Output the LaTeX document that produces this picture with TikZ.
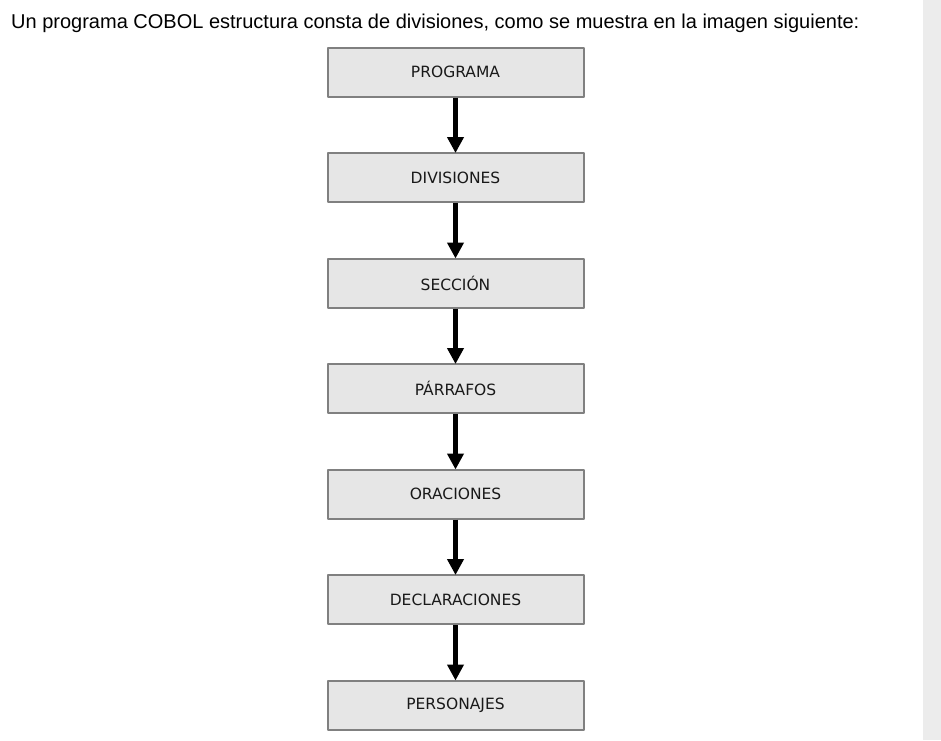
\documentclass[tikz,border=0pt]{standalone}
\usepackage{fontspec}
\setmainfont{Liberation Sans}
\newfontfamily\boxfont{DejaVu Sans}
\usetikzlibrary{arrows.meta}
\definecolor{boxfill}{HTML}{E6E6E6}
\definecolor{boxline}{HTML}{808080}
\definecolor{sidebar}{HTML}{ECECEC}
\begin{document}
\begin{tikzpicture}[x=1pt, y=-1pt, line join=round, >={Triangle[length=16pt,width=16pt]},
	nivel/.style={draw=boxline, line width=2pt, fill=boxfill, minimum width=256pt, minimum height=49pt, inner sep=0pt, font=\boxfont\fontsize{15.5}{18}\selectfont, text=black!90},
	flecha/.style={->, line width=4.5pt, shorten >=-1pt}]
				\useasboundingbox (0,0) rectangle (941,740);
				\fill[sidebar] (923,0) rectangle (941,740);
				\node[anchor=base west, inner sep=0pt, font=\fontsize{20}{23}\selectfont] (titulo) at (11,28) {Un programa COBOL estructura consta de divisiones, como se muestra en la imagen siguiente:};
				\foreach \n/\t [count=\i from 0] in {prog/PROGRAMA, div/DIVISIONES, sec/SECCIÓN, par/PÁRRAFOS, ora/ORACIONES, dec/DECLARACIONES, per/PERSONAJES}
					\node[nivel] (\n) at (455.5,{72+105.5*\i}) {\t};
				\foreach \a/\b in {prog/div, div/sec, sec/par, par/ora, ora/dec, dec/per}
					\draw[flecha] (\a.south) -- (\b.north);
				
			\end{tikzpicture}
\end{document}
